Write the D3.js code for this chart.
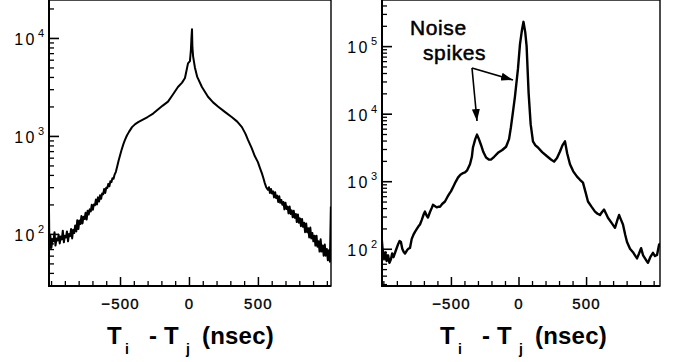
<!DOCTYPE html>
<html lang="en">
<head>
<meta charset="utf-8">
<title>Time difference spectra</title>
<script src="https://d3js.org/d3.v7.min.js"></script>
<style>
body{margin:0;background:#fff;}
text{font-family:"Liberation Sans",Arial,sans-serif;fill:#000;}
</style>
</head>
<body>
<div id="chart"></div>
<script type="text/javascript">
var w = 675;
var h = 362;

// left panel: Ti - Tj (ns) and counts per bin
var leftTimes = [
 -1015,-1012,-1005,-998,-990,-983,-975,-968,-960,-952,
 -945,-937,-930,-922,-915,-907,-900,-892,-885,-877,
 -870,-862,-855,-847,-840,-832,-825,-817,-810,-802,
 -795,-787,-780,-772,-765,-757,-750,-742,-735,-727,
 -720,-712,-705,-697,-690,-682,-675,-667,-660,-652,
 -645,-637,-630,-622,-615,-607,-600,-592,-585,-577,
 -570,-562,-555,-547,-540,-530,-520,-510,-500,
 -490,-475,-464,-450,-435,-413,-390,-365,-341,-300,
 -260,-225,-190,-152,-120,-80,-50,-29,-7,7,
 14,18,22,25,30,43,60,94,138,175,
 210,260,312,350,384,410,428,455,478,
 500,515,529,540,550,560,572,580,587,595,
 602,610,617,625,632,640,647,655,662,670,
 677,685,692,700,707,715,722,730,737,745,
 752,760,767,775,782,790,797,805,812,820,
 827,835,842,850,857,865,872,880,887,895,
 902,910,917,925,932,940,947,955,962,970,
 977,985,992,1000,1007,1015,1022,1029
];
var leftCounts = [
 180,70,95,72,88,84,104,76,90,86,
 98,80,94,88,108,82,96,92,106,84,
 100,95,112,90,110,102,122,106,138,112,
 137,126,152,128,150,142,164,140,172,158,
 178,170,198,176,200,196,224,200,236,214,
 248,228,258,254,288,262,296,294,324,306,
 345,338,370,365,400,430,490,560,630,
 710,830,910,1010,1100,1230,1320,1390,1450,1560,
 1690,1860,2040,2240,2600,3160,3500,3900,5500,5800,
 7500,10000,12300,8000,6500,5000,4000,3160,2510,2200,
 2000,1760,1550,1400,1230,1050,910,750,620,
 540,470,415,370,330,300,282,300,262,288,
 258,272,236,266,232,246,212,242,208,222,
 198,212,178,208,180,190,162,190,160,174,
 148,172,146,160,132,158,130,144,120,142,
 118,130,104,128,104,114,92,116,90,102,
 84,96,76,96,74,84,66,88,66,76,
 60,78,60,70,54,68,52,190
];

// right panel (with noise spikes)
var rightTimes = [
 -1012,-1005,-995,-985,-975,-965,-955,-944,-935,-925,
 -907,-890,-880,-870,-860,-850,-840,-825,-815,-803,
 -790,-775,-766,-750,-740,-729,-715,-700,-692,-680,
 -670,-655,-640,-633,-620,-605,-590,-581,-565,-544,
 -525,-510,-500,-480,-465,-448,-430,-410,-396,-380,
 -359,-345,-337,-320,-307,-295,-278,-260,-240,-220,
 -204,-180,-152,-120,-92,-70,-56,-40,-26,-4,
 11,25,37,50,60,75,90,107,125,144,
 175,211,240,263,285,307,325,344,360,381,
 405,433,455,477,495,514,540,566,585,603,
 618,633,648,662,690,714,730,744,758,773,
 790,803,825,847,862,877,892,907,922,936,
 948,958,975,995,1010,1025,1040,1047
];
var rightCounts = [
 140,95,72,88,66,80,62,70,85,75,
 95,118,130,126,100,90,85,95,100,103,
 140,165,178,200,215,229,270,330,355,310,
 290,350,410,447,430,410,420,417,460,501,
 590,660,708,850,980,1130,1250,1320,1350,1450,
 1780,2300,3160,4200,4900,4300,3470,2700,2240,2100,
 2090,2300,2630,2900,3240,4200,6310,11000,18000,46000,
 107000,170000,229000,160000,100000,20000,7000,3890,3400,3160,
 2700,2340,2100,1950,2200,2750,3400,3890,2600,1780,
 1400,1170,1050,955,700,501,420,355,330,316,
 350,380,330,288,240,204,260,316,270,229,
 160,126,100,89,80,72,85,102,80,72,
 66,62,75,87,78,81,115,120
];

var xMajorTicks = [-500, 0, 500];
var leftDecades = [2, 3, 4];
var rightDecades = [2, 3, 4, 5];
var annotationLines = ["Noise", "spikes"];

var svg;
var plotTop = 0, plotBottom = 286;

setUp();
drawPanel({times: leftTimes, counts: leftCounts, x0: 49, x1: 331, tMin: -1015, tMax: 1030,
           yMin: 29.4, yMax: 24400, decades: leftDecades, titleX: 107, id: "l"});
drawPanel({times: rightTimes, counts: rightCounts, x0: 382, x1: 660, tMin: -1010, tMax: 1047,
           yMin: 28.1, yMax: 482000, decades: rightDecades, titleX: 440, id: "r"});
drawAnnotation();

function setUp(){
	svg = d3.select("#chart")
	.append("svg")
	.attr("width", w)
	.attr("height", h);

	svg.append("defs").append("marker")
	.attr("id", "head")
	.attr("markerUnits", "userSpaceOnUse")
	.attr("markerWidth", 13).attr("markerHeight", 8)
	.attr("refX", 12).attr("refY", 4)
	.attr("orient", "auto")
	.append("path")
	.attr("d", "M0,0L12,4L0,8Z")
	.attr("fill", "#000");
}

function drawPanel(p){
	var x = d3.scaleLinear().domain([p.tMin, p.tMax]).range([p.x0, p.x1]);
	var y = d3.scaleLog().domain([p.yMin, p.yMax]).range([plotBottom, plotTop]);
	var g = svg.append("g");

	g.append("clipPath").attr("id", "clip" + p.id)
	.append("rect")
	.attr("x", p.x0).attr("y", plotTop)
	.attr("width", p.x1 - p.x0).attr("height", plotBottom - plotTop);

	// the spectrum
	var line = d3.line()
	.x(function(d){ return x(d[0]); })
	.y(function(d){ return y(d[1]); });

	g.append("path")
	.datum(d3.zip(p.times, p.counts))
	.attr("clip-path", "url(#clip" + p.id + ")")
	.attr("fill", "none")
	.attr("stroke", "#000")
	.attr("stroke-width", p.id == "r" ? 2.4 : 2)
	.attr("stroke-linejoin", "round")
	.attr("d", line);

	// x ticks, pointing inward
	var minor = d3.range(-1000, 1001, 100).filter(function(t){ return xMajorTicks.indexOf(t) < 0; });
	g.append("g")
	.attr("transform", "translate(0," + plotBottom + ")")
	.call(d3.axisBottom(x).tickValues(minor).tickSize(-5).tickFormat(""))
	.call(function(a){ a.select(".domain").remove(); a.selectAll("line").attr("stroke-width", 1.3); });

	g.append("g")
	.attr("transform", "translate(0," + plotBottom + ")")
	.call(d3.axisBottom(x).tickValues(xMajorTicks).tickSize(-9).tickPadding(12).tickFormat(d3.format("d")))
	.call(function(a){
		a.select(".domain").remove();
		a.selectAll("line").attr("stroke-width", 1.5);
		a.selectAll("text").attr("font-size", 15).attr("letter-spacing", 1.2)
		.attr("font-family", "'Liberation Sans', Arial, sans-serif")
		.attr("stroke", "#000").attr("stroke-width", 0.35);
	});

	// y ticks (log)
	var yMinor = [];
	for (var e = 1; e <= 5; e++){
		for (var m = 2; m <= 9; m++){
			var v = m * Math.pow(10, e);
			if (v > p.yMin && v < p.yMax) yMinor.push(v);
		}
	}
	var yMajor = p.decades.map(function(e){ return Math.pow(10, e); });

	g.append("g")
	.attr("transform", "translate(" + p.x0 + ",0)")
	.call(d3.axisLeft(y).tickValues(yMinor).tickSize(-5).tickFormat(""))
	.call(function(a){ a.select(".domain").remove(); a.selectAll("line").attr("stroke-width", 1.3); });

	g.append("g")
	.attr("transform", "translate(" + p.x0 + ",0)")
	.call(d3.axisLeft(y).tickValues(yMajor).tickSize(-10).tickFormat(""))
	.call(function(a){ a.select(".domain").remove(); a.selectAll("line").attr("stroke-width", 1.6); });

	var labels = g.selectAll(".ylab").data(p.decades).enter().append("g").attr("class", "ylab");
	labels.append("text")
	.attr("x", p.x0 - 12)
	.attr("y", function(d){ return y(Math.pow(10, d)) + 7; })
	.attr("text-anchor", "end")
	.attr("font-size", 16)
	.attr("letter-spacing", 2.5)
	.text("10");
	labels.append("text")
	.attr("x", p.x0 - 11)
	.attr("y", function(d){ return y(Math.pow(10, d)) - 1; })
	.attr("font-size", 11)
	.text(function(d){ return d; });

	// frame
	g.append("rect")
	.attr("x", p.x0).attr("y", plotTop)
	.attr("width", p.x1 - p.x0).attr("height", plotBottom - plotTop)
	.attr("fill", "none").attr("stroke", "#000").attr("stroke-width", 1.4);
	g.append("line")
	.attr("x1", p.x0).attr("x2", p.x0).attr("y1", plotTop).attr("y2", plotBottom + 1)
	.attr("stroke", "#000").attr("stroke-width", 2);
	g.append("line")
	.attr("x1", p.x0).attr("x2", p.x1).attr("y1", plotBottom).attr("y2", plotBottom)
	.attr("stroke", "#000").attr("stroke-width", 2);

	// axis title  T_i - T_j  (nsec)
	var pieces = [
		{t: "T", dx: 0, sub: false},
		{t: "i", dx: 18, sub: true},
		{t: "-", dx: 42, sub: false},
		{t: "T", dx: 57, sub: false},
		{t: "j", dx: 79, sub: true},
		{t: "(nsec)", dx: 95, sub: false}
	];
	g.selectAll(".title").data(pieces).enter().append("text")
	.attr("x", function(d){ return p.titleX + d.dx; })
	.attr("y", function(d){ return d.sub ? 354 : 344; })
	.attr("font-size", function(d){ return d.sub ? 14 : 24; })
	.attr("font-weight", "bold")
	.attr("letter-spacing", function(d){ return d.sub ? 0 : 0.2; })
	.text(function(d){ return d.t; });
}

function drawAnnotation(){
	svg.selectAll(".note").data(annotationLines).enter().append("text")
	.attr("x", function(d, i){ return i == 0 ? 410 : 423; })
	.attr("y", function(d, i){ return i == 0 ? 35 : 60; })
	.attr("font-size", 21)
	.attr("letter-spacing", 0.6)
	.attr("stroke", "#000")
	.attr("stroke-width", 0.5)
	.text(function(d){ return d; });

	var arrows = [[472, 68, 513, 80], [472, 68, 477, 121]];
	svg.selectAll(".arrow").data(arrows).enter().append("line")
	.attr("x1", function(d){ return d[0]; })
	.attr("y1", function(d){ return d[1]; })
	.attr("x2", function(d){ return d[2]; })
	.attr("y2", function(d){ return d[3]; })
	.attr("stroke", "#000")
	.attr("stroke-width", 1.6)
	.attr("marker-end", "url(#head)");
}
</script>
</body>
</html>
